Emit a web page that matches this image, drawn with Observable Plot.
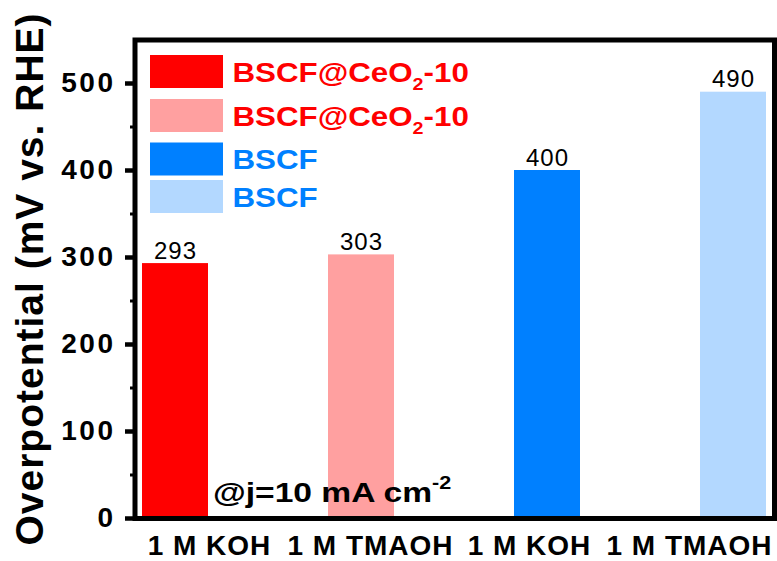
<!DOCTYPE html>
<html>
<head>
<meta charset="utf-8">
<script src="https://cdn.jsdelivr.net/npm/d3@7"></script>
<script src="https://cdn.jsdelivr.net/npm/@observablehq/plot@0.6"></script>
<style>
  body { margin: 0; background: #fff; }
  #chart svg { display: block; }
</style>
</head>
<body>
<div id="chart"></div>
<script>
// Overpotential at j = 10 mA cm^-2 for each catalyst / electrolyte pair
const electrolytes = ["1 M KOH", "1 M TMAOH", "1 M KOH", "1 M TMAOH"];
const catalysts = ["BSCF@CeO2-10", "BSCF@CeO2-10", "BSCF", "BSCF"];
const overpotentials = [293, 303, 400, 490];
const yTicks = [0, 100, 200, 300, 400, 500];
const yMinorTicks = [50, 150, 250, 350, 450];

// Styling
const barFills = ["#ff0000", "#ffa0a0", "#0080ff", "#b3d8ff"];
const catalystInk = { "BSCF@CeO2-10": "#ff0000", "BSCF": "#0080ff" };
const labelShift = [34, 9, -18, -44];   // horizontal nudge of the category labels
const font = "Arial, 'Liberation Sans', Helvetica, sans-serif";

const rows = overpotentials.map((value, i) => ({
  i, electrolyte: electrolytes[i], catalyst: catalysts[i], value
}));

const plot = Plot.plot({
  width: 777,
  height: 561,
  marginLeft: 134.5,
  marginRight: 3,
  marginTop: 39.5,
  marginBottom: 43,
  style: { fontFamily: font, background: "#fff", color: "#000", overflow: "visible" },
  x: { type: "band", domain: d3.range(electrolytes.length), paddingInner: 0.643, paddingOuter: 0.039 },
  y: { domain: [0, 550] },
  color: { domain: d3.range(rows.length), range: barFills },
  marks: [
    Plot.barY(rows, { x: "i", y: "value", fill: "i" }),
    Plot.text(rows, {
      x: "i", y: "value", text: d => String(d.value),
      dy: -5, lineAnchor: "bottom", fontSize: 24, fill: "#000"
    }),
    Plot.axisY({ ticks: yMinorTicks, tickSize: 4.5, strokeWidth: 3, tickFormat: () => "", label: null }),
    Plot.axisY({
      ticks: yTicks, tickSize: 9.5, strokeWidth: 4.5, tickPadding: 10,
      fontSize: 28, fontWeight: "bold", label: null
    }),
    ...electrolytes.map((name, i) => Plot.axisX({
      ticks: [i], tickSize: 0, tickPadding: 17, tickFormat: () => name,
      dx: labelShift[i], fontSize: 28, fontWeight: "bold", label: null
    })),
    Plot.frame({ stroke: "#000", strokeWidth: 5 })
  ]
});

const svg = d3.select(plot);
svg.selectAll('g[aria-label="y-axis tick label"] text').style("letter-spacing", "2.5px");
svg.selectAll('g[aria-label="x-axis tick label"] text').style("letter-spacing", "1px");
svg.selectAll('g[aria-label="text"] text').style("letter-spacing", "1px");

// Y-axis title
svg.append("text")
  .attr("transform", "translate(43,279) rotate(-90)")
  .attr("text-anchor", "middle")
  .attr("font-family", font)
  .attr("font-weight", "bold")
  .attr("font-size", 39)
  .style("letter-spacing", "1px")
  .attr("fill", "#000")
  .text("Overpotential (mV vs. RHE)");

// Legend: one swatch per bar, labelled by catalyst (wide bold type)
const legendTop = [55, 99, 142.5, 180];
const legend = svg.append("g")
  .attr("font-family", font)
  .attr("font-weight", "bold")
  .attr("text-anchor", "start");
rows.forEach((d, k) => {
  legend.append("rect")
    .attr("x", 150).attr("y", legendTop[k])
    .attr("width", 73).attr("height", 33)
    .attr("fill", barFills[k]);
  const t = legend.append("text")
    .attr("transform", `translate(232.5,${legendTop[k] + 26.5}) scale(1.16,1)`)
    .attr("font-size", 27)
    .attr("fill", catalystInk[d.catalyst]);
  const m = d.catalyst.match(/^(.*O)2(.*)$/);
  if (m) {
    t.append("tspan").text(m[1]);
    t.append("tspan").attr("font-size", 17).attr("dy", 8).text("2");
    t.append("tspan").attr("dy", -8).text(m[2]);
  } else {
    t.text(d.catalyst);
  }
});

// Current-density note
const note = svg.append("text")
  .attr("transform", "translate(213,501.5) scale(1.2,1)")
  .attr("text-anchor", "start")
  .attr("font-family", font).attr("font-weight", "bold")
  .attr("font-size", 28)
  .attr("fill", "#000");
note.append("tspan").text("@j=10 mA cm");
note.append("tspan").attr("font-size", 18).attr("dy", -13).text("-2");

document.getElementById("chart").appendChild(plot);
</script>
</body>
</html>
